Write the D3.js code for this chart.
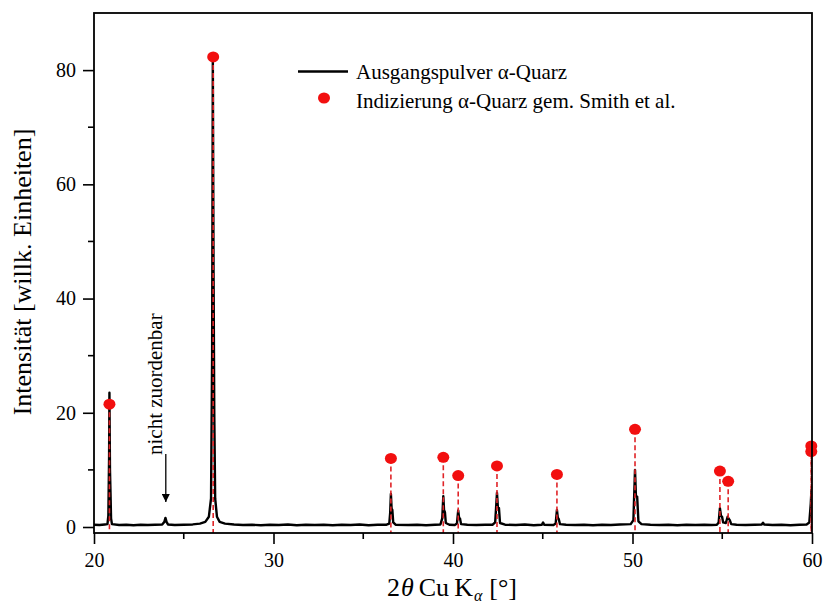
<!DOCTYPE html>
<html>
<head>
<meta charset="utf-8">
<script src="https://cdn.jsdelivr.net/npm/d3@7"></script>
<style>
  html, body { margin: 0; padding: 0; background: #fff; }
  svg { display: block; font-family: "Liberation Serif", "DejaVu Serif", serif; }
</style>
</head>
<body>
<svg id="chart" width="823" height="606"></svg>
<script>
// Measured powder pattern: [2θ (°), intensity]
const pattern = [
  [20.0, 0.4], [20.3, 0.35], [20.6, 0.45], [20.75, 0.5], [20.8, 2.0], [20.84, 12],
  [20.86, 23.5], [20.89, 10], [20.92, 6], [20.95, 1.5], [21.0, 0.5], [21.4, 0.35],
  [21.8, 0.4], [22.2, 0.3], [22.6, 0.4], [23.0, 0.35], [23.4, 0.4], [23.8, 0.45],
  [23.92, 0.9], [23.98, 1.6], [24.04, 0.9], [24.12, 0.45], [24.5, 0.35], [25.0, 0.4],
  [25.5, 0.45], [25.9, 0.6], [26.2, 0.9], [26.4, 1.8], [26.52, 5], [26.58, 30],
  [26.62, 82], [26.66, 45], [26.7, 20], [26.75, 5], [26.85, 1.8], [27.0, 0.9],
  [27.3, 0.6], [27.8, 0.45], [28.3, 0.35], [28.8, 0.4], [29.3, 0.3], [29.8, 0.4],
  [30.3, 0.35], [30.8, 0.45], [31.3, 0.3], [31.8, 0.4], [32.3, 0.35], [32.8, 0.4],
  [33.3, 0.3], [33.8, 0.4], [34.3, 0.35], [34.8, 0.45], [35.3, 0.3], [35.8, 0.4],
  [36.3, 0.4], [36.45, 0.6], [36.5, 2.5], [36.54, 5.8], [36.58, 3.2], [36.62, 3.0],
  [36.67, 0.8], [36.8, 0.4], [37.5, 0.35], [38.0, 0.4], [38.5, 0.3], [39.0, 0.4],
  [39.3, 0.45], [39.4, 1.5], [39.46, 5.4], [39.5, 3.0], [39.55, 2.6], [39.6, 0.7],
  [39.8, 0.4], [40.1, 0.35], [40.22, 0.6], [40.29, 2.9], [40.34, 1.6], [40.39, 1.5],
  [40.45, 0.5], [40.8, 0.4], [41.3, 0.35], [41.8, 0.4], [42.2, 0.4], [42.35, 0.8],
  [42.45, 6.0], [42.5, 3.5], [42.56, 3.3], [42.62, 0.7], [42.9, 0.4], [43.5, 0.35],
  [44.0, 0.45], [44.5, 0.3], [44.95, 0.4], [45.02, 0.8], [45.08, 0.4], [45.6, 0.35],
  [45.72, 0.6], [45.79, 3.0], [45.84, 1.6], [45.89, 1.4], [45.96, 0.5], [46.3, 0.4],
  [46.8, 0.35], [47.3, 0.4], [47.8, 0.3], [48.3, 0.4], [48.8, 0.35], [49.3, 0.45],
  [49.9, 0.5], [50.05, 1.2], [50.14, 10], [50.19, 5.5], [50.26, 5.3], [50.33, 1.0],
  [50.5, 0.5], [51.0, 0.4], [51.5, 0.35], [52.0, 0.4], [52.5, 0.3], [53.0, 0.4],
  [53.5, 0.35], [54.0, 0.4], [54.4, 0.35], [54.7, 0.4], [54.8, 0.8], [54.87, 3.3],
  [54.93, 2.0], [54.99, 1.8], [55.05, 0.8], [55.2, 0.7], [55.3, 1.8], [55.35, 1.5],
  [55.42, 1.2], [55.5, 0.5], [55.8, 0.4], [56.3, 0.35], [56.8, 0.4], [57.2, 0.45],
  [57.27, 0.75], [57.33, 0.45], [57.8, 0.35], [58.3, 0.4], [58.8, 0.3], [59.3, 0.4],
  [59.7, 0.45], [59.85, 0.8], [59.93, 4.0], [59.97, 6.5], [60.0, 6.0]
];

// Reference reflections of α-quartz (Smith et al.)
const refPos = [20.86, 26.64, 36.54, 39.46, 40.29, 42.45, 45.79, 50.14, 54.87, 55.33, 59.96, 59.96];
const refInt = [21.5, 82.3, 12.0, 12.2, 9.0, 10.7, 9.2, 17.1, 9.8, 8.0, 14.2, 13.2];

const xTicks = [20, 30, 40, 50, 60];
const xMinor = [25, 35, 45, 55];
const yTicks = [0, 20, 40, 60, 80];
const yMinor = [10, 30, 50, 70];

const legendLabels = ["Ausgangspulver \u03b1-Quarz", "Indizierung \u03b1-Quarz gem. Smith et al."];
const noteText = "nicht zuordenbar";
const notePos = 24.0;

const svg = d3.select("#chart");
const pL = 94, pR = 812, pT = 13, pB = 533;

const x = d3.scaleLinear().domain([20, 60]).range([pL, pR]);
const y = d3.scaleLinear().domain([-1.05, 90]).range([pB, pT]);

const defs = svg.append("defs");
defs.append("clipPath").attr("id", "plot")
  .append("rect").attr("x", pL).attr("y", pT).attr("width", pR - pL).attr("height", pB - pT);

defs.append("marker")
  .attr("id", "arrow").attr("viewBox", "0 0 10 10").attr("refX", 10).attr("refY", 5)
  .attr("markerWidth", 13).attr("markerHeight", 8).attr("markerUnits", "userSpaceOnUse")
  .attr("orient", "auto")
  .append("path").attr("d", "M0,0 L10,5 L0,10 Z").attr("fill", "#000");

// Powder pattern
const line = d3.line().x(d => x(d[0])).y(d => y(d[1]));
svg.append("path").datum(pattern)
  .attr("clip-path", "url(#plot)")
  .attr("d", line)
  .attr("fill", "none").attr("stroke", "#000").attr("stroke-width", 2.4)
  .attr("stroke-linejoin", "round");

// Reference reflections: dashed drop lines and dots
const refs = refPos.map((p, i) => ({ p, v: refInt[i] }));
svg.append("g").selectAll("line").data(refs).join("line")
  .attr("x1", d => x(d.p)).attr("x2", d => x(d.p))
  .attr("y1", d => y(d.v)).attr("y2", y(-1.05))
  .attr("stroke", "#e02428").attr("stroke-width", 1.6).attr("stroke-dasharray", "5,3");
svg.append("g").selectAll("ellipse").data(refs).join("ellipse")
  .attr("cx", d => x(d.p)).attr("cy", d => y(d.v))
  .attr("rx", 6).attr("ry", 5.5).attr("fill", "#f20f0f");

// Axes
const xAxis = d3.axisBottom(x).tickValues(xTicks).tickSize(11).tickPadding(9).tickFormat(d3.format("d"));
const gx = svg.append("g").attr("transform", `translate(0,${pB})`).call(xAxis);
gx.append("g").selectAll("line").data(xMinor).join("line")
  .attr("x1", d => x(d)).attr("x2", d => x(d)).attr("y1", 0).attr("y2", 6)
  .attr("stroke", "#000").attr("stroke-width", 1.6);

const yAxis = d3.axisLeft(y).tickValues(yTicks).tickSize(11).tickPadding(7).tickFormat(d3.format("d"));
const gy = svg.append("g").attr("transform", `translate(${pL},0)`).call(yAxis);
gy.append("g").selectAll("line").data(yMinor).join("line")
  .attr("x1", 0).attr("x2", -6).attr("y1", d => y(d)).attr("y2", d => y(d))
  .attr("stroke", "#000").attr("stroke-width", 1.6);

[gx, gy].forEach(g => {
  g.attr("font-family", "Liberation Serif");
  g.select(".domain").remove();
  g.selectAll(".tick line").attr("stroke-width", 1.6);
  g.selectAll(".tick text").attr("font-size", 20).attr("fill", "#000");
});

// Frame
svg.append("rect").attr("x", pL).attr("y", pT).attr("width", pR - pL).attr("height", pB - pT)
  .attr("fill", "none").attr("stroke", "#000").attr("stroke-width", 1.8);

// Axis titles
svg.append("text").attr("transform", `translate(31,272) rotate(-90)`)
  .attr("text-anchor", "middle").attr("font-size", 26).text("Intensität [willk. Einheiten]");

const xt = svg.append("text").attr("x", 387).attr("y", 596).attr("font-size", 26);
xt.append("tspan").text("2");
xt.append("tspan").attr("font-style", "italic").attr("dx", 1).text("\u03b8");
xt.append("tspan").attr("dx", 5).text("Cu");
xt.append("tspan").attr("dx", 5).text("K");
xt.append("tspan").attr("font-size", 16).attr("font-style", "italic").attr("dy", 5).attr("dx", 1).text("\u03b1");
xt.append("tspan").attr("dy", -5).attr("dx", 7).text("[°]");

// Annotation for the unassigned reflection
svg.append("text").attr("transform", `translate(${x(notePos) - 4},455) rotate(-90)`)
  .attr("font-size", 21).text(noteText);
svg.append("line").attr("x1", x(notePos)).attr("x2", x(notePos)).attr("y1", 454).attr("y2", 502)
  .attr("stroke", "#000").attr("stroke-width", 1.3).attr("marker-end", "url(#arrow)");

// Legend
const lg = svg.append("g");
lg.append("line").attr("x1", 298).attr("x2", 348).attr("y1", 71.5).attr("y2", 71.5)
  .attr("stroke", "#000").attr("stroke-width", 2.5);
lg.append("ellipse").attr("cx", 324).attr("cy", 98).attr("rx", 6).attr("ry", 5.5).attr("fill", "#f20f0f");
lg.selectAll("text").data(legendLabels).join("text")
  .attr("x", 356).attr("y", (d, i) => 79 + i * 29)
  .attr("font-size", 21).text(d => d);
</script>
</body>
</html>
